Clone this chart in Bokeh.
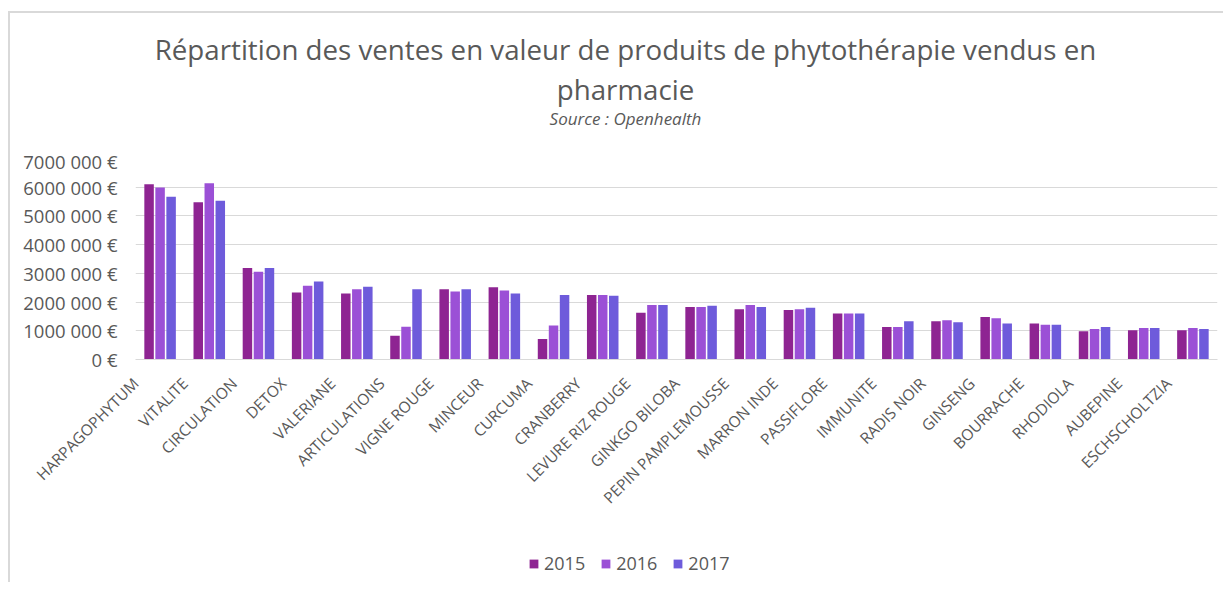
from math import pi
from bokeh.plotting import figure
from bokeh.layouts import column
from bokeh.models import (Range1d, LinearAxis, FixedTicker, Label, Legend, LegendItem,
                          ColumnDataSource, LinearScale)
from bokeh.transform import dodge
from bokeh.embed import file_html
from bokeh.resources import INLINE

categories = ["HARPAGOPHYTUM", "VITALITE", "CIRCULATION", "DETOX", "VALERIANE",
              "ARTICULATIONS", "VIGNE ROUGE", "MINCEUR", "CURCUMA", "CRANBERRY",
              "LEVURE RIZ ROUGE", "GINKGO BILOBA", "PEPIN PAMPLEMOUSSE", "MARRON INDE",
              "PASSIFLORE", "IMMUNITE", "RADIS NOIR", "GINSENG", "BOURRACHE",
              "RHODIOLA", "AUBEPINE", "ESCHSCHOLTZIA"]
years = ["2015", "2016", "2017"]
v2015 = [6100000, 5480000, 3190000, 2330000, 2300000, 830000, 2450000, 2520000,
         710000, 2250000, 1630000, 1830000, 1750000, 1720000, 1600000, 1130000,
         1330000, 1480000, 1250000, 980000, 1020000, 1020000]
v2016 = [5990000, 6140000, 3060000, 2570000, 2450000, 1140000, 2370000, 2400000,
         1180000, 2250000, 1900000, 1830000, 1900000, 1750000, 1600000, 1130000,
         1370000, 1440000, 1210000, 1060000, 1100000, 1100000]
v2017 = [5670000, 5530000, 3190000, 2720000, 2530000, 2450000, 2450000, 2300000,
         2250000, 2220000, 1900000, 1870000, 1830000, 1800000, 1600000, 1330000,
         1300000, 1250000, 1210000, 1130000, 1100000, 1060000]
y_ticks = [0, 1000000, 2000000, 3000000, 4000000, 5000000, 6000000, 7000000]
y_tick_labels = ["0 €", "1000 000 €", "2000 000 €", "3000 000 €", "4000 000 €",
                 "5000 000 €", "6000 000 €", "7000 000 €"]
title_line1 = "Répartition des ventes en valeur de produits de phytothérapie vendus en"
title_line2 = "pharmacie"
subtitle = "Source : Openhealth"
colors = ["#8E2492", "#9B50D6", "#6E5BDB"]

TXT = "#595959"
FONT = "Open Sans"
W = 1213

def bare(fig):
    fig.outline_line_color = None
    fig.background_fill_color = "white"
    fig.border_fill_color = "white"
    fig.xgrid.visible = False
    fig.ygrid.visible = False

# ---- title strip (its frame is aligned with the chart frame: page x 135..1217)
TH = 135
tf = figure(width=W, height=TH, x_range=Range1d(135, 1217), y_range=Range1d(0, TH),
            output_backend="svg", toolbar_location=None, min_border=0,
            x_axis_location=None, y_axis_location=None)
bare(tf)
tf.add_layout(Label(x=625, y=100, text=title_line1, text_font=FONT, text_font_size="27.7px",
                    text_color=TXT, text_align="center", text_baseline="middle"))
tf.add_layout(Label(x=625, y=60, text=title_line2, text_font=FONT, text_font_size="27.7px",
                    text_color=TXT, text_align="center", text_baseline="middle"))
tf.add_layout(Label(x=625, y=30, text=subtitle, text_font=FONT, text_font_size="17px",
                    text_font_style="italic", text_color=TXT, text_align="center",
                    text_baseline="middle"))

# ---- main chart
n = len(categories)
idx = list(range(n))
src = ColumnDataSource(dict(idx=idx, cat=categories, v2015=v2015, v2016=v2016, v2017=v2017))

p = figure(x_range=Range1d(0, n), y_range=Range1d(0, 7000000),
           width=W, height=402, output_backend="svg", toolbar_location=None,
           min_border_left=125, min_border_right=6, min_border_top=10,
           min_border_bottom=191)
p.outline_line_color = None
p.background_fill_color = "white"
p.border_fill_color = "white"

renderers = []
for off, col, c in zip([-0.224, 0.0, 0.224], ["v2015", "v2016", "v2017"], colors):
    r = p.vbar(x=dodge("idx", 0.5 + off), top=col, width=0.193,
               source=src, fill_color=c, line_color=None)
    renderers.append(r)

p.xaxis.visible = False
p.xgrid.visible = False
p.ygrid.grid_line_color = "#d9d9d9"
p.ygrid.grid_line_width = 1

p.yaxis.ticker = FixedTicker(ticks=y_ticks)
p.yaxis.major_label_overrides = {t: l for t, l in zip(y_ticks, y_tick_labels)}
p.yaxis.axis_line_color = None
p.yaxis.major_tick_line_color = None
p.yaxis.minor_tick_line_color = None
p.yaxis.major_tick_out = 0
p.yaxis.major_tick_in = 0
p.yaxis.major_label_standoff = 18
p.yaxis.major_label_text_font = FONT
p.yaxis.major_label_text_font_size = "18.5px"
p.yaxis.major_label_text_color = TXT

# label axis: the rotated labels end slightly left of each category centre, like the original
p.extra_x_ranges = {"lab": Range1d(-0.001, n - 0.001)}
p.extra_x_scales = {"lab": LinearScale()}
ax = LinearAxis(x_range_name="lab", ticker=FixedTicker(ticks=idx),
                major_label_overrides={i: c for i, c in zip(idx, categories)})
ax.major_label_orientation = pi / 4
ax.axis_line_color = "#d9d9d9"
ax.major_tick_line_color = None
ax.minor_tick_line_color = None
ax.major_tick_out = 0
ax.major_tick_in = 0
ax.major_label_standoff = 21
ax.major_label_text_font = FONT
ax.major_label_text_font_size = "15.5px"
ax.major_label_text_color = TXT
p.add_layout(ax, "below")

# ---- legend strip (frame aligned with chart frame, so x is measured from page x 135)
LH = 32
lf = figure(width=W, height=LH, x_range=Range1d(0, 1), y_range=Range1d(0, 1),
            output_backend="svg", toolbar_location=None, min_border=0,
            x_axis_location=None, y_axis_location=None)
bare(lf)
keys = [lf.vbar(x=[0.5], top=[0], bottom=[0], width=0.01, fill_color=c, line_color=None)
        for c in colors]
legend = Legend(items=[LegendItem(label=y, renderers=[r]) for y, r in zip(years, keys)],
                orientation="horizontal", location=(393, 7))
legend.padding = 0
legend.margin = 0
legend.glyph_width = 11
legend.glyph_height = 11
legend.label_standoff = 5
legend.spacing = 15
legend.label_text_font = FONT
legend.label_text_font_size = "18px"
legend.label_text_color = TXT
legend.border_line_color = None
legend.background_fill_alpha = 0
lf.add_layout(legend, "center")

layout = column(tf, p, lf, spacing=0,
                styles={"margin-left": "8px", "margin-top": "11px",
                        "border-left": "2px solid #d9d9d9",
                        "border-top": "2px solid #d9d9d9"})

open("out.html", "w").write(file_html(layout, INLINE))
